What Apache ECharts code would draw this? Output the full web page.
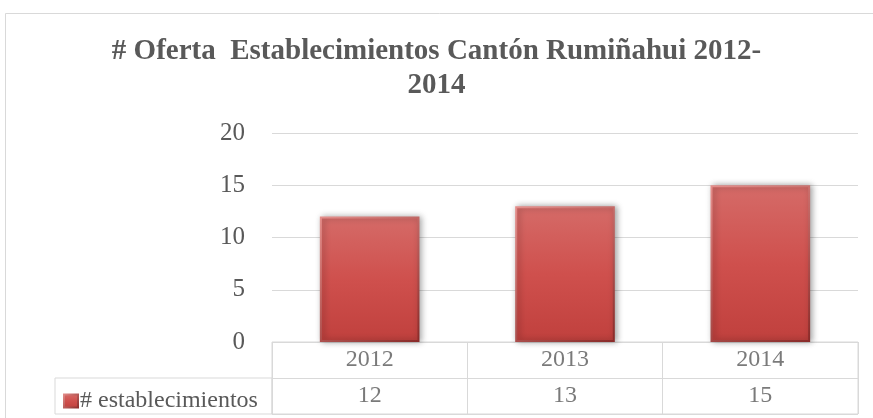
<!DOCTYPE html>
<html>
<head>
<meta charset="utf-8">
<script src="https://cdn.jsdelivr.net/npm/echarts@6/dist/echarts.min.js"></script>
<style>
  html, body { margin: 0; padding: 0; background: #fff; }
  #chart { width: 873px; height: 418px; }
</style>
</head>
<body>
<div id="chart"></div>
<script>
// Establishments offered per year
const years = ['2012', '2013', '2014'];
const establecimientos = [12, 13, 15];
const seriesName = '# establecimientos';
const yTicks = { min: 0, max: 20, interval: 5 };
const titleText = '# Oferta  Establecimientos Cantón Rumiñahui 2012-\n2014';

const serif = '"Liberation Serif", "Times New Roman", serif';
const textGrey = '#595959';
const lineGrey = '#d9d9d9';

const barFill = new echarts.graphic.LinearGradient(0, 0, 0, 1, [
  { offset: 0, color: '#d56b68' },
  { offset: 0.5, color: '#cf504d' },
  { offset: 1, color: '#c0403d' }
]);
const barEdge = new echarts.graphic.LinearGradient(0, 0, 1, 1, [
  { offset: 0, color: '#e58e8b' },
  { offset: 1, color: '#8a2b29' }
]);

// table rows: years on top, values below
const tableCells = [];
years.forEach((y, i) => {
  tableCells.push({ value: [y, 0], label: { formatter: y } });
  tableCells.push({ value: [y, 1], label: { formatter: String(establecimientos[i]) } });
});

const chart = echarts.init(document.getElementById('chart'), null, { renderer: 'canvas' });
chart.setOption({
  animation: false,
  backgroundColor: '#fff',
  title: {
    text: titleText,
    left: 'center',
    top: 30,
    textStyle: {
      fontFamily: serif, fontWeight: 'bold', fontSize: 29,
      color: textGrey, lineHeight: 34
    }
  },
  graphic: [{
    type: 'rect',
    silent: true,
    shape: { x: 5.5, y: 13.5, width: 1000, height: 1000 },
    style: { fill: 'none', stroke: lineGrey, lineWidth: 1 }
  }],
  legend: {
    left: 58,
    top: 384,
    itemWidth: 14,
    itemHeight: 13,
    itemGap: 0,
    textStyle: { fontFamily: serif, fontSize: 24, color: textGrey, padding: [0, 0, 0, -3] },
    data: [{ name: seriesName, icon: 'rect' }]
  },
  grid: [
    { left: 272, top: 133, width: 586, height: 209 },
    { left: 272, top: 342, width: 586, height: 72, show: true, borderColor: lineGrey, borderWidth: 1 },
    { left: 55, top: 378, width: 217, height: 36, show: true, borderColor: lineGrey, borderWidth: 1 }
  ],
  xAxis: [
    {
      gridIndex: 0, type: 'category', data: years,
      axisLine: { show: false }, axisTick: { show: false }, axisLabel: { show: false }
    },
    {
      gridIndex: 1, type: 'category', data: years,
      axisLine: { show: false }, axisTick: { show: false }, axisLabel: { show: false },
      splitLine: { show: true, lineStyle: { color: lineGrey, width: 1 } }
    },
    {
      gridIndex: 2, type: 'category', data: [''], show: false
    }
  ],
  yAxis: [
    {
      gridIndex: 0, type: 'value', min: yTicks.min, max: yTicks.max, interval: yTicks.interval,
      axisLine: { show: false }, axisTick: { show: false },
      axisLabel: { fontFamily: serif, fontSize: 25, color: textGrey, margin: 27 },
      splitLine: { lineStyle: { color: lineGrey, width: 1 } }
    },
    {
      gridIndex: 1, type: 'category', data: [0, 1], inverse: true,
      axisLine: { show: false }, axisTick: { show: false }, axisLabel: { show: false },
      splitLine: { show: true, lineStyle: { color: lineGrey, width: 1 } }
    },
    {
      gridIndex: 2, type: 'value', show: false
    }
  ],
  series: [
    {
      name: seriesName,
      type: 'bar',
      xAxisIndex: 0, yAxisIndex: 0,
      data: establecimientos,
      barWidth: '51%',
      itemStyle: {
        color: barFill,
        borderColor: barEdge,
        borderWidth: 2,
        shadowColor: 'rgba(0,0,0,0.35)',
        shadowBlur: 6,
        shadowOffsetX: 2,
        shadowOffsetY: 0
      }
    },
    {
      name: 'tabla',
      type: 'scatter',
      xAxisIndex: 1, yAxisIndex: 1,
      symbolSize: 0,
      silent: true,
      data: tableCells,
      label: {
        show: true, position: 'inside',
        fontFamily: serif, fontSize: 24, color: textGrey
      }
    }
  ]
});
</script>
</body>
</html>
